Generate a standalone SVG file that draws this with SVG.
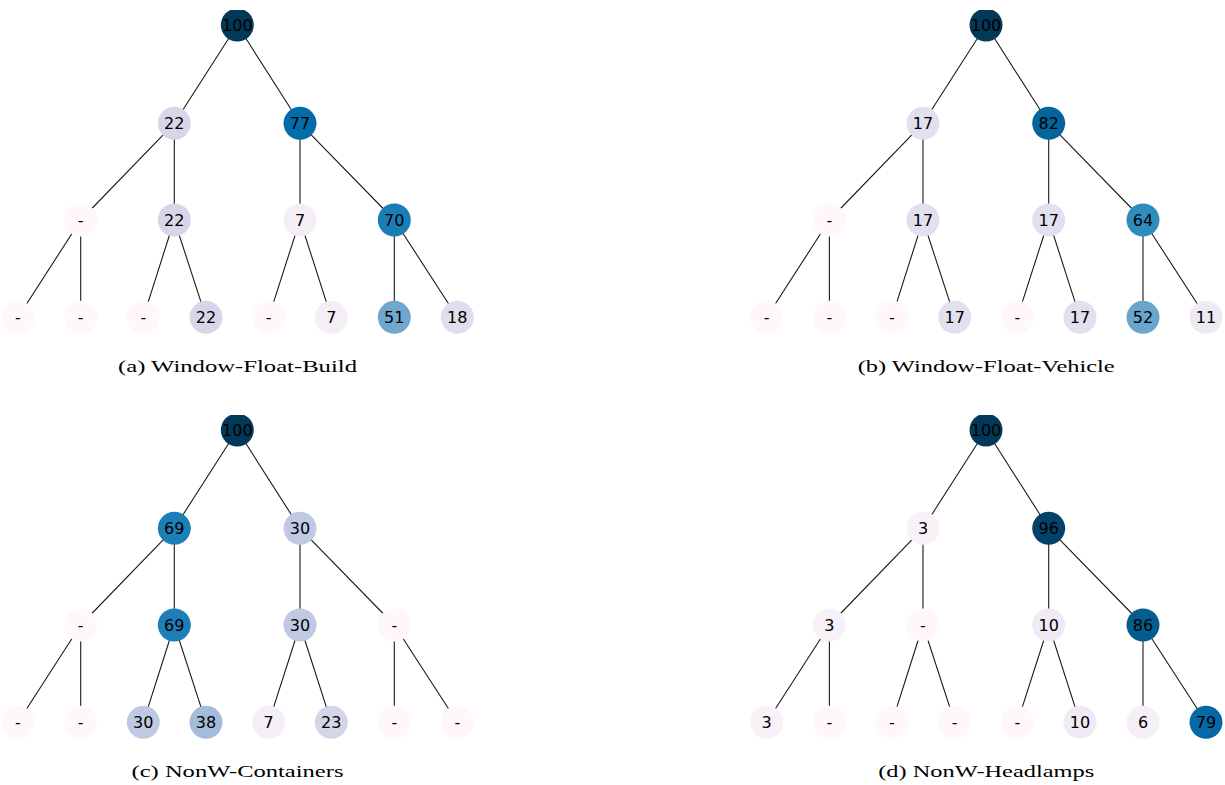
<svg xmlns="http://www.w3.org/2000/svg" width="1225" height="785" viewBox="0 0 1225 785">
<style>
.e{stroke:#1a1a1a;stroke-width:1.1;fill:none}
.n circle{stroke:none}
.n text{font-family:"DejaVu Sans",sans-serif;font-size:16px;text-anchor:middle;fill:#000}
.cap{font-family:"Liberation Serif",serif;font-size:17px;text-anchor:middle;fill:#000}
</style>
<defs>
<clipPath id="pc"><rect x="0" y="10" width="480" height="324"/></clipPath>
</defs>
<rect width="1225" height="785" fill="#fff"/>

<!-- Panel (a) -->
<g id="panel-a" transform="translate(0,0)">
<g clip-path="url(#pc)">
<g id="a-edges">
<path class="e" d="M237.3,25L174.3,123.3M237.3,25L300,123.3M174.3,123.3L80.7,220M174.3,123.3L174.3,220M300,123.3L300,220M300,123.3L394.3,220M80.7,220L18,317.3M80.7,220L80.7,317.3M174.3,220L143.3,317.3M174.3,220L206,317.3M300,220L268.7,317.3M300,220L331.3,317.3M394.3,220L394.3,317.3M394.3,220L457.3,317.3"/>
</g>
<g id="a-n0" class="n"><circle cx="237.3" cy="25" r="16.5" fill="#023858"/><text x="237.3" y="30.8">100</text></g>
<g id="a-n1" class="n"><circle cx="174.3" cy="123.3" r="16.5" fill="#d7d6e9"/><text x="174.3" y="129.1">22</text></g>
<g id="a-n2" class="n"><circle cx="300" cy="123.3" r="16.5" fill="#056caa"/><text x="300" y="129.1">77</text></g>
<g id="a-n3" class="n"><circle cx="80.7" cy="220" r="16.5" fill="#fff7fb"/><text x="80.7" y="225.8">-</text></g>
<g id="a-n4" class="n"><circle cx="174.3" cy="220" r="16.5" fill="#d7d6e9"/><text x="174.3" y="225.8">22</text></g>
<g id="a-n5" class="n"><circle cx="300" cy="220" r="16.5" fill="#f4eef6"/><text x="300" y="225.8">7</text></g>
<g id="a-n6" class="n"><circle cx="394.3" cy="220" r="16.5" fill="#197db6"/><text x="394.3" y="225.8">70</text></g>
<g id="a-n7" class="n"><circle cx="18" cy="317.3" r="16.5" fill="#fff7fb"/><text x="18" y="323.1">-</text></g>
<g id="a-n8" class="n"><circle cx="80.7" cy="317.3" r="16.5" fill="#fff7fb"/><text x="80.7" y="323.1">-</text></g>
<g id="a-n9" class="n"><circle cx="143.3" cy="317.3" r="16.5" fill="#fff7fb"/><text x="143.3" y="323.1">-</text></g>
<g id="a-n10" class="n"><circle cx="206" cy="317.3" r="16.5" fill="#d7d6e9"/><text x="206" y="323.1">22</text></g>
<g id="a-n11" class="n"><circle cx="268.7" cy="317.3" r="16.5" fill="#fff7fb"/><text x="268.7" y="323.1">-</text></g>
<g id="a-n12" class="n"><circle cx="331.3" cy="317.3" r="16.5" fill="#f4eef6"/><text x="331.3" y="323.1">7</text></g>
<g id="a-n13" class="n"><circle cx="394.3" cy="317.3" r="16.5" fill="#6fa7ce"/><text x="394.3" y="323.1">51</text></g>
<g id="a-n14" class="n"><circle cx="457.3" cy="317.3" r="16.5" fill="#e0dded"/><text x="457.3" y="323.1">18</text></g>
</g>
<text class="cap" x="237.5" y="372" textLength="239" lengthAdjust="spacingAndGlyphs">(a)  Window-Float-Build</text>
</g>

<!-- Panel (b) -->
<g id="panel-b" transform="translate(748.7,0)">
<g clip-path="url(#pc)">
<g id="b-edges">
<path class="e" d="M237.3,25L174.3,123.3M237.3,25L300,123.3M174.3,123.3L80.7,220M174.3,123.3L174.3,220M300,123.3L300,220M300,123.3L394.3,220M80.7,220L18,317.3M80.7,220L80.7,317.3M174.3,220L143.3,317.3M174.3,220L206,317.3M300,220L268.7,317.3M300,220L331.3,317.3M394.3,220L394.3,317.3M394.3,220L457.3,317.3"/>
</g>
<g id="b-n0" class="n"><circle cx="237.3" cy="25" r="16.5" fill="#023858"/><text x="237.3" y="30.8">100</text></g>
<g id="b-n1" class="n"><circle cx="174.3" cy="123.3" r="16.5" fill="#e2dfee"/><text x="174.3" y="129.1">17</text></g>
<g id="b-n2" class="n"><circle cx="300" cy="123.3" r="16.5" fill="#04649c"/><text x="300" y="129.1">82</text></g>
<g id="b-n3" class="n"><circle cx="80.7" cy="220" r="16.5" fill="#fff7fb"/><text x="80.7" y="225.8">-</text></g>
<g id="b-n4" class="n"><circle cx="174.3" cy="220" r="16.5" fill="#e2dfee"/><text x="174.3" y="225.8">17</text></g>
<g id="b-n5" class="n"><circle cx="300" cy="220" r="16.5" fill="#e2dfee"/><text x="300" y="225.8">17</text></g>
<g id="b-n6" class="n"><circle cx="394.3" cy="220" r="16.5" fill="#308cbe"/><text x="394.3" y="225.8">64</text></g>
<g id="b-n7" class="n"><circle cx="18" cy="317.3" r="16.5" fill="#fff7fb"/><text x="18" y="323.1">-</text></g>
<g id="b-n8" class="n"><circle cx="80.7" cy="317.3" r="16.5" fill="#fff7fb"/><text x="80.7" y="323.1">-</text></g>
<g id="b-n9" class="n"><circle cx="143.3" cy="317.3" r="16.5" fill="#fff7fb"/><text x="143.3" y="323.1">-</text></g>
<g id="b-n10" class="n"><circle cx="206" cy="317.3" r="16.5" fill="#e2dfee"/><text x="206" y="323.1">17</text></g>
<g id="b-n11" class="n"><circle cx="268.7" cy="317.3" r="16.5" fill="#fff7fb"/><text x="268.7" y="323.1">-</text></g>
<g id="b-n12" class="n"><circle cx="331.3" cy="317.3" r="16.5" fill="#e2dfee"/><text x="331.3" y="323.1">17</text></g>
<g id="b-n13" class="n"><circle cx="394.3" cy="317.3" r="16.5" fill="#6aa5cd"/><text x="394.3" y="323.1">52</text></g>
<g id="b-n14" class="n"><circle cx="457.3" cy="317.3" r="16.5" fill="#eee9f3"/><text x="457.3" y="323.1">11</text></g>
</g>
<text class="cap" x="237.5" y="372" textLength="257" lengthAdjust="spacingAndGlyphs">(b)  Window-Float-Vehicle</text>
</g>

<!-- Panel (c) -->
<g id="panel-c" transform="translate(0,405)">
<g clip-path="url(#pc)">
<g id="c-edges">
<path class="e" d="M237.3,25L174.3,123.3M237.3,25L300,123.3M174.3,123.3L80.7,220M174.3,123.3L174.3,220M300,123.3L300,220M300,123.3L394.3,220M80.7,220L18,317.3M80.7,220L80.7,317.3M174.3,220L143.3,317.3M174.3,220L206,317.3M300,220L268.7,317.3M300,220L331.3,317.3M394.3,220L394.3,317.3M394.3,220L457.3,317.3"/>
</g>
<g id="c-n0" class="n"><circle cx="237.3" cy="25" r="16.5" fill="#023858"/><text x="237.3" y="30.8">100</text></g>
<g id="c-n1" class="n"><circle cx="174.3" cy="123.3" r="16.5" fill="#1d7fb8"/><text x="174.3" y="129.1">69</text></g>
<g id="c-n2" class="n"><circle cx="300" cy="123.3" r="16.5" fill="#bfc9e2"/><text x="300" y="129.1">30</text></g>
<g id="c-n3" class="n"><circle cx="80.7" cy="220" r="16.5" fill="#fff7fb"/><text x="80.7" y="225.8">-</text></g>
<g id="c-n4" class="n"><circle cx="174.3" cy="220" r="16.5" fill="#1d7fb8"/><text x="174.3" y="225.8">69</text></g>
<g id="c-n5" class="n"><circle cx="300" cy="220" r="16.5" fill="#bfc9e2"/><text x="300" y="225.8">30</text></g>
<g id="c-n6" class="n"><circle cx="394.3" cy="220" r="16.5" fill="#fff7fb"/><text x="394.3" y="225.8">-</text></g>
<g id="c-n7" class="n"><circle cx="18" cy="317.3" r="16.5" fill="#fff7fb"/><text x="18" y="323.1">-</text></g>
<g id="c-n8" class="n"><circle cx="80.7" cy="317.3" r="16.5" fill="#fff7fb"/><text x="80.7" y="323.1">-</text></g>
<g id="c-n9" class="n"><circle cx="143.3" cy="317.3" r="16.5" fill="#bfc9e2"/><text x="143.3" y="323.1">30</text></g>
<g id="c-n10" class="n"><circle cx="206" cy="317.3" r="16.5" fill="#a4bcdb"/><text x="206" y="323.1">38</text></g>
<g id="c-n11" class="n"><circle cx="268.7" cy="317.3" r="16.5" fill="#f4eef6"/><text x="268.7" y="323.1">7</text></g>
<g id="c-n12" class="n"><circle cx="331.3" cy="317.3" r="16.5" fill="#d5d5e8"/><text x="331.3" y="323.1">23</text></g>
<g id="c-n13" class="n"><circle cx="394.3" cy="317.3" r="16.5" fill="#fff7fb"/><text x="394.3" y="323.1">-</text></g>
<g id="c-n14" class="n"><circle cx="457.3" cy="317.3" r="16.5" fill="#fff7fb"/><text x="457.3" y="323.1">-</text></g>
</g>
<text class="cap" x="237.5" y="372" textLength="212" lengthAdjust="spacingAndGlyphs">(c)  NonW-Containers</text>
</g>

<!-- Panel (d) -->
<g id="panel-d" transform="translate(748.7,405)">
<g clip-path="url(#pc)">
<g id="d-edges">
<path class="e" d="M237.3,25L174.3,123.3M237.3,25L300,123.3M174.3,123.3L80.7,220M174.3,123.3L174.3,220M300,123.3L300,220M300,123.3L394.3,220M80.7,220L18,317.3M80.7,220L80.7,317.3M174.3,220L143.3,317.3M174.3,220L206,317.3M300,220L268.7,317.3M300,220L331.3,317.3M394.3,220L394.3,317.3M394.3,220L457.3,317.3"/>
</g>
<g id="d-n0" class="n"><circle cx="237.3" cy="25" r="16.5" fill="#023858"/><text x="237.3" y="30.8">100</text></g>
<g id="d-n1" class="n"><circle cx="174.3" cy="123.3" r="16.5" fill="#f8f1f8"/><text x="174.3" y="129.1">3</text></g>
<g id="d-n2" class="n"><circle cx="300" cy="123.3" r="16.5" fill="#034369"/><text x="300" y="129.1">96</text></g>
<g id="d-n3" class="n"><circle cx="80.7" cy="220" r="16.5" fill="#f8f1f8"/><text x="80.7" y="225.8">3</text></g>
<g id="d-n4" class="n"><circle cx="174.3" cy="220" r="16.5" fill="#fff7fb"/><text x="174.3" y="225.8">-</text></g>
<g id="d-n5" class="n"><circle cx="300" cy="220" r="16.5" fill="#f0eaf4"/><text x="300" y="225.8">10</text></g>
<g id="d-n6" class="n"><circle cx="394.3" cy="220" r="16.5" fill="#045c91"/><text x="394.3" y="225.8">86</text></g>
<g id="d-n7" class="n"><circle cx="18" cy="317.3" r="16.5" fill="#f8f1f8"/><text x="18" y="323.1">3</text></g>
<g id="d-n8" class="n"><circle cx="80.7" cy="317.3" r="16.5" fill="#fff7fb"/><text x="80.7" y="323.1">-</text></g>
<g id="d-n9" class="n"><circle cx="143.3" cy="317.3" r="16.5" fill="#fff7fb"/><text x="143.3" y="323.1">-</text></g>
<g id="d-n10" class="n"><circle cx="206" cy="317.3" r="16.5" fill="#fff7fb"/><text x="206" y="323.1">-</text></g>
<g id="d-n11" class="n"><circle cx="268.7" cy="317.3" r="16.5" fill="#fff7fb"/><text x="268.7" y="323.1">-</text></g>
<g id="d-n12" class="n"><circle cx="331.3" cy="317.3" r="16.5" fill="#f0eaf4"/><text x="331.3" y="323.1">10</text></g>
<g id="d-n13" class="n"><circle cx="394.3" cy="317.3" r="16.5" fill="#f6eff7"/><text x="394.3" y="323.1">6</text></g>
<g id="d-n14" class="n"><circle cx="457.3" cy="317.3" r="16.5" fill="#0569a5"/><text x="457.3" y="323.1">79</text></g>
</g>
<text class="cap" x="237.5" y="372" textLength="216" lengthAdjust="spacingAndGlyphs">(d)  NonW-Headlamps</text>
</g>
</svg>
